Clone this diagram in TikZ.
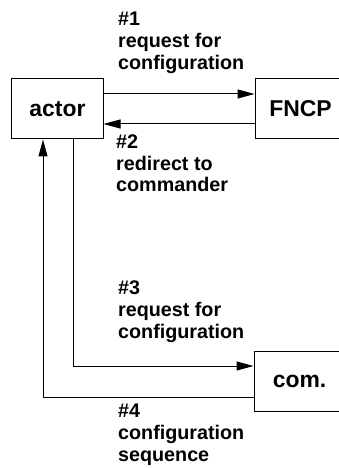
\documentclass[tikz,border=0pt]{standalone}
\usepackage{fontspec}
\setmainfont{Liberation Sans}
\usetikzlibrary{arrows.meta}
\begin{document}
\begin{tikzpicture}[x=1bp,y=-1bp,
  box/.style={draw,line width=1bp,minimum width=91bp,minimum height=60bp,inner sep=0pt,
    font=\fontsize{23}{26}\selectfont\bfseries},
  lbl/.style={anchor=base west,inner sep=0pt,align=left,
    font=\fontsize{19.8}{22}\selectfont\bfseries},
  arr/.style={line width=1bp,-{Triangle[length=17bp,width=9bp]}},
  ln/.style={line width=1bp}]
\useasboundingbox (0,0) rectangle (338,468);
\node[box] (actor) at (57.5,109) {actor};
\node[box] (FNCP) at (300.5,109) {FNCP};
\node[box] (com) at (299.5,381) {com.};
\draw[arr] ([yshift=15bp]actor.east) -- ([yshift=15bp]FNCP.west);
\draw[arr] ([yshift=-15bp]FNCP.west) -- ([yshift=-15bp]actor.east);
\draw[arr] ([xshift=15.5bp]actor.south) |- ([yshift=15bp]com.west);
\draw[arr] ([yshift=-16bp]com.west) -| ([xshift=-14.5bp]actor.south);
\node[lbl] (l1) at (118,69.7) {\#1\\request for\\configuration};
\node[lbl] (l2) at (116,192) {\#2\\redirect to\\commander};
\node[lbl] (l3) at (118,338.3) {\#3\\request for\\configuration};
\node[lbl] (l4) at (118,461.7) {\#4\\configuration\\sequence};
\end{tikzpicture}
\end{document}
